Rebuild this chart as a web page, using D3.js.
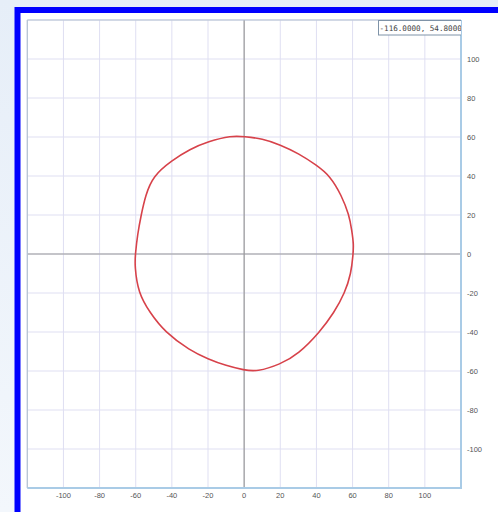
<!DOCTYPE html>
<html>
<head>
<meta charset="utf-8">
<script src="https://cdn.jsdelivr.net/npm/d3@7"></script>
<style>
  html, body { margin: 0; padding: 0; }
  body { width: 498px; height: 512px; overflow: hidden;
         background: linear-gradient(#e6eef8, #f3f7fc); }
</style>
</head>
<body>
<div id="chart"></div>
<script>
// curve points, in order round the shape
var curveX = [60.3, 60.6, 59.6, 58.1, 53.9, 47.6, 40, 30, 20, 10, 0, -7, -20, -30, -40, -50.5, -54.6, -57.0, -59.0, -60.2, -60.6, -58.6, -52.2, -43.9, -30, -20, -10, 0, 7, 20, 30, 41.9, 49.8, 55.7, 59.2];
var curveY = [0, 5, 12, 20, 30, 40, 45.6, 51.6, 56.0, 59.2, 60.2, 60.7, 57.7, 53.8, 48, 40, 30, 20, 10, 0, -6, -20, -30, -40, -49.5, -53.8, -57.3, -59.5, -60.4, -56.6, -51.3, -40, -30, -20, -10];
var xTicks = [-100, -80, -60, -40, -20, 0, 20, 40, 60, 80, 100];
var yTicks = [100, 80, 60, 40, 20, 0, -20, -40, -60, -80, -100];
var gridSteps = [-120, -100, -80, -60, -40, -20, 0, 20, 40, 60, 80, 100, 120];
var readout = "-116.0000, 54.8000";

var width = 498, height = 512
  , plot = {left: 27.3, top: 20, right: 461, bottom: 488}
  , gridColor = "#dfdff2"
  , axisColor = "#9a9a9a"
  , lineColor = "#d7424a"
  ;

var svg = d3.select("#chart").append("svg")
    .attr("width", width)
    .attr("height", height);

// blue frame, its right and bottom sides run off the page
svg.append("rect")
    .attr("x", 17.5).attr("y", 10)
    .attr("width", 520).attr("height", 540)
    .style("fill", "#ffffff")
    .style("stroke", "#0000ff")
    .style("stroke-width", 6);

var xScale = d3.scaleLinear().domain([-120, 120]).range([plot.left, plot.right]);
var yScale = d3.scaleLinear().domain([-120, 120]).range([plot.bottom, plot.top]);

var defs = svg.append("defs");
defs.append("clipPath").attr("id", "plotClip")
  .append("rect")
    .attr("x", plot.left).attr("y", plot.top)
    .attr("width", plot.right - plot.left).attr("height", plot.bottom - plot.top);

var g = svg.append("g");

g.append("rect")
    .attr("x", plot.left).attr("y", plot.top)
    .attr("width", plot.right - plot.left).attr("height", plot.bottom - plot.top)
    .style("fill", "#ffffff");

// grid
g.selectAll(".vgrid").data(gridSteps).enter().append("line")
    .attr("class", "vgrid")
    .attr("x1", function(d) { return xScale(d); })
    .attr("x2", function(d) { return xScale(d); })
    .attr("y1", plot.top).attr("y2", plot.bottom)
    .style("stroke", gridColor).style("stroke-width", 1);

g.selectAll(".hgrid").data(gridSteps).enter().append("line")
    .attr("class", "hgrid")
    .attr("y1", function(d) { return yScale(d); })
    .attr("y2", function(d) { return yScale(d); })
    .attr("x1", plot.left).attr("x2", plot.right)
    .style("stroke", gridColor).style("stroke-width", 1);

// zero axes
g.append("line")
    .attr("x1", xScale(0)).attr("x2", xScale(0))
    .attr("y1", plot.top).attr("y2", plot.bottom)
    .style("stroke", axisColor).style("stroke-width", 1.2);
g.append("line")
    .attr("y1", yScale(0)).attr("y2", yScale(0))
    .attr("x1", plot.left).attr("x2", plot.right)
    .style("stroke", axisColor).style("stroke-width", 1.2);

// plot border
g.append("line")
    .attr("x1", plot.left).attr("x2", plot.right).attr("y1", plot.top).attr("y2", plot.top)
    .style("stroke", "#b4c2d2").style("stroke-width", 1.2);
g.append("line")
    .attr("x1", plot.left).attr("x2", plot.left).attr("y1", plot.top).attr("y2", plot.bottom)
    .style("stroke", "#b4c2d2").style("stroke-width", 1.2);
g.append("line")
    .attr("x1", plot.right).attr("x2", plot.right).attr("y1", plot.top).attr("y2", plot.bottom + 1)
    .style("stroke", "#a9cbe6").style("stroke-width", 2);
g.append("line")
    .attr("x1", plot.left).attr("x2", plot.right + 1).attr("y1", plot.bottom).attr("y2", plot.bottom)
    .style("stroke", "#a9cbe6").style("stroke-width", 2);

// curve, smoothed through the read points
var pts = curveX.map(function(x, i) { return [x, curveY[i]]; });
var line = d3.line()
    .x(function(d) { return xScale(d[0]); })
    .y(function(d) { return yScale(d[1]); })
    .curve(d3.curveBasisClosed);

g.append("path")
    .datum(pts)
    .attr("d", line)
    .attr("clip-path", "url(#plotClip)")
    .style("fill", "none")
    .style("stroke", lineColor)
    .style("stroke-width", 1.6);

// tick labels
g.selectAll(".xlab").data(xTicks).enter().append("text")
    .attr("class", "xlab")
    .attr("x", function(d) { return xScale(d); })
    .attr("y", plot.bottom + 9.5)
    .attr("text-anchor", "middle")
    .style("font-family", "Arial, 'Liberation Sans', sans-serif")
    .style("font-size", "7.5px")
    .style("fill", "#555")
    .text(function(d) { return d; });

g.selectAll(".ylab").data(yTicks).enter().append("text")
    .attr("class", "ylab")
    .attr("x", plot.right + 6)
    .attr("y", function(d) { return yScale(d); })
    .attr("dy", "0.35em")
    .attr("text-anchor", "start")
    .style("font-family", "Arial, 'Liberation Sans', sans-serif")
    .style("font-size", "7.5px")
    .style("fill", "#555")
    .text(function(d) { return d; });

// coordinate readout, cut off by the plot edge
var rd = g.append("g").attr("clip-path", "url(#plotClip)");
rd.append("rect")
    .attr("x", 378.5).attr("y", plot.top + 0.5)
    .attr("width", 90).attr("height", 14.5)
    .style("fill", "#ffffff")
    .style("stroke", "#7f93a8")
    .style("stroke-width", 1);
rd.append("text")
    .attr("x", 379.5).attr("y", plot.top + 10.5)
    .style("font-family", "'DejaVu Sans Mono', monospace")
    .style("font-size", "7.6px")
    .style("fill", "#444")
    .text(readout);
</script>
</body>
</html>
